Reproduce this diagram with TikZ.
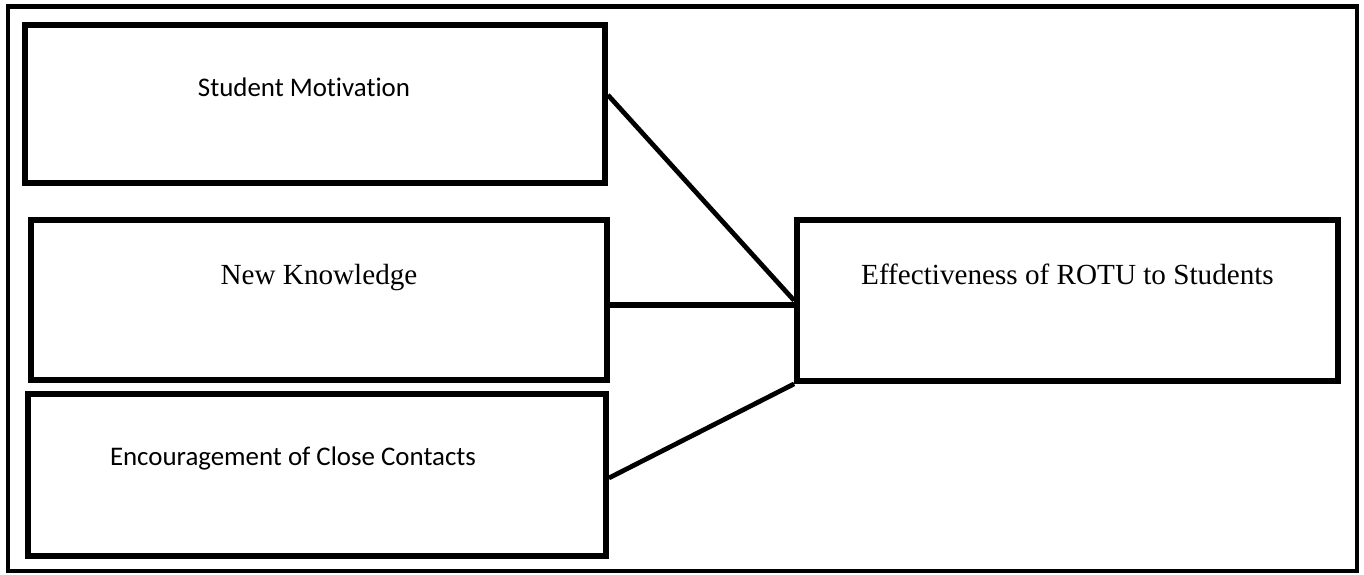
\documentclass[tikz,border=0pt]{standalone}
\usepackage{fontspec}
\setmainfont{Liberation Serif}
\newfontfamily\calibrifont[Ligatures=NoCommon]{Carlito}
\usepackage{tikz}
\usetikzlibrary{positioning}

\tikzset{
    varbox/.style={draw, line width=3.3pt, inner sep=0pt, minimum width=#1},
    sansbox/.style={font=\calibrifont\fontsize{15.3}{18}\selectfont, text height=0.34cm},
    serifbox/.style={font=\fontsize{16.6}{20}\selectfont, text height=0.385cm},
    link/.style={line width=2.7pt}
}

\begin{document}
\begin{tikzpicture}
    \useasboundingbox (0,0) rectangle (27.28,11.48);
    \draw[line width=2.6pt] (0.16,0.06) rectangle (27.14,11.35);

    \node[varbox=11.6cm, sansbox, minimum height=3.16cm, text depth=0.64cm] (motivation) at (6.30,9.40) {Student Motivation\hspace*{0.44cm}};
    \node[varbox=11.52cm, serifbox, minimum height=3.2cm, text depth=1.0cm] (knowledge) at (6.38,5.48) {New Knowledge};
    \node[varbox=11.56cm, sansbox, minimum height=3.24cm, text depth=0.72cm] (contacts) at (6.34,1.98) {Encouragement of Close Contacts\hspace*{0.96cm}};

    \node[varbox=10.82cm, serifbox, minimum height=3.22cm, text depth=1.04cm] (rotu) at (21.35,5.47) {Effectiveness of ROTU to Students};

    \draw[link] ([yshift=0.18cm]motivation.east) -- (rotu.west);
    \draw[link, line width=3pt] ([yshift=-0.1cm]knowledge.east) -- ([yshift=-0.1cm]knowledge.east -| rotu.west);
    \draw[link] ([yshift=-0.06cm]contacts.east) -- (rotu.south west);
\end{tikzpicture}
\end{document}
